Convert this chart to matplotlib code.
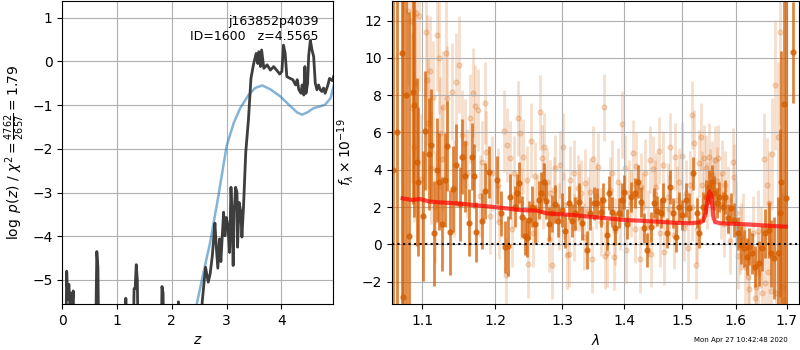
import matplotlib
matplotlib.use("Agg")
import matplotlib.pyplot as plt
from matplotlib.ticker import FixedLocator, FixedFormatter, NullLocator

# ---- redshift probability ----
z_grid = [0.00, 0.05, 0.08, 0.10, 0.12, 0.14, 0.16, 0.18, 0.20, 0.23,
          0.59, 0.63, 0.65, 0.68,
          1.13, 1.16, 1.19,
          1.28, 1.31, 1.33, 1.35, 1.37, 1.40,
          1.79, 1.82, 1.84, 1.87,
          2.09, 2.12, 2.15,
          2.50, 2.555, 2.58, 2.616, 2.665, 2.70, 2.74, 2.76, 2.787, 2.81,
          2.84, 2.87, 2.896, 2.92, 2.945, 2.97, 2.994, 3.024, 3.055, 3.08,
          3.10, 3.12, 3.14, 3.165, 3.19, 3.20, 3.23, 3.26, 3.28, 3.31,
          3.35, 3.40, 3.445, 3.49, 3.54, 3.57, 3.59, 3.62, 3.64, 3.68,
          3.74, 3.80, 3.86, 3.92, 3.97, 4.01, 4.04, 4.07, 4.10, 4.16,
          4.21, 4.26, 4.29, 4.32, 4.36, 4.38, 4.41, 4.43, 4.45, 4.48,
          4.50, 4.53, 4.56, 4.59, 4.62, 4.65, 4.68, 4.71, 4.74, 4.77,
          4.80, 4.85, 4.88, 4.93, 4.96]
log_pz = [-8.0, -8.0, -4.8, -5.45, -5.1, -5.6, -5.3, -5.6, -5.25, -8.0,
          -8.0, -4.35, -4.7, -8.0,
          -8.0, -5.42, -8.0,
          -8.0, -5.2, -5.2, -4.65, -5.0, -8.0,
          -8.0, -5.15, -5.3, -8.0,
          -8.0, -5.5, -8.0,
          -8.0, -5.5, -5.17, -4.71, -5.05, -4.86, -4.44, -4.12, -3.70, -4.21,
          -4.73, -4.06, -4.58, -4.02, -3.45, -3.99, -3.57, -3.76, -4.37, -2.88,
          -3.53, -4.67, -3.42, -2.88, -3.00, -4.25, -3.23, -3.45, -4.02, -3.30,
          -2.08, -1.32, -0.39, -0.08, 0.18, -0.05, 0.22, -0.12, 0.26, -0.16,
          -0.08, -0.20, -0.12, -0.21, -0.29, -0.23, 0.37, 0.18, -0.35, -0.39,
          -0.42, -0.54, -0.42, -0.65, -0.73, -0.54, -0.77, -0.12, -0.73, -0.50,
          0.14, 0.48, 0.26, 0.11, -0.50, -0.65, -0.54, -0.65, -0.69, -0.61,
          -0.73, -0.54, -0.39, -0.44, -0.33]

z_chi2 = [2.20, 2.46, 2.58, 2.70, 2.85, 3.00, 3.13, 3.25, 3.40, 3.52,
          3.65, 3.80, 3.98, 4.16, 4.29, 4.38, 4.47, 4.59, 4.71, 4.80,
          4.90, 4.96]
chi2_curve = [-7.0, -5.52, -4.82, -4.14, -3.08, -1.94, -1.41, -1.07, -0.77, -0.61,
              -0.55, -0.64, -0.80, -1.02, -1.17, -1.22, -1.17, -1.07, -1.03, -0.99,
              -0.84, -0.54]

# ---- 1D spectrum, first set ----
wave_a = [1.0628, 1.0668, 1.0733, 1.0753, 1.0788, 1.0832, 1.0875, 1.0896, 1.0927, 1.0944,
          1.1013, 1.1039, 1.1084, 1.1118, 1.1158, 1.1190, 1.1225, 1.1265, 1.1305, 1.1331,
          1.1371, 1.1411, 1.1447, 1.1501, 1.1537, 1.1581, 1.1626, 1.1671, 1.1707, 1.1735,
          1.1817, 1.1854, 1.1917,
          1.2027, 1.2089, 1.2147, 1.2186, 1.2219, 1.2284, 1.2318, 1.2352, 1.2392, 1.2432,
          1.2466, 1.2500, 1.2540, 1.2590, 1.2641, 1.2680, 1.2717, 1.2752, 1.2802, 1.2844,
          1.2894, 1.2936, 1.2998, 1.3049, 1.3102, 1.3154, 1.3206, 1.3260, 1.3313, 1.3392,
          1.3445, 1.3499,
          1.3548, 1.3613, 1.3655, 1.3711, 1.3749, 1.3803, 1.3843, 1.3914, 1.3969, 1.3997,
          1.4053, 1.4120, 1.4178, 1.4234, 1.4280, 1.4336, 1.4393, 1.4451, 1.4508, 1.4565,
          1.4625, 1.4670, 1.4730, 1.4788, 1.4836, 1.4889, 1.4948, 1.5007, 1.5068, 1.5127,
          1.5205, 1.5267,
          1.5314, 1.5377, 1.5438, 1.5499, 1.5549, 1.5591, 1.5636, 1.5685, 1.5749, 1.5798,
          1.5843, 1.5906, 1.5969, 1.6034, 1.6098, 1.6161, 1.6208, 1.6258, 1.6311, 1.6375,
          1.6442, 1.6507, 1.6572, 1.6639, 1.6691, 1.6751, 1.6819, 1.6865, 1.6891, 1.6952,
          1.6985, 1.7123]
flux_a = [4.0, 6.0, 10.25, -2.81, 8.00, 0.45, 8.15, 7.46, 4.43, 3.36,
          1.52, 6.09, 4.83, 5.33, 0.59, 3.99, 3.36, 1.09, 3.45, 5.27,
          0.64, 2.95, 4.25, 2.16, 4.70, 3.66, 1.16, 4.70, 3.66, 0.66,
          1.27, 2.88, 3.90,
          3.45, 1.66, -0.13, -0.09, 2.55, 2.02, 2.77, 3.30, 1.48, 0.45,
          0.32, 1.30, 2.02, 1.09, 2.38, 2.77, 3.36, 2.34, 1.09, 1.66,
          2.16, 1.27, 1.84, 0.73, 2.23, 1.27, 1.66, 2.29, 1.13, -0.31,
          1.66, 2.20,
          2.20, 1.75, 2.38, 0.50, 2.74, 1.75, 0.86, 1.66, 2.38, 2.82,
          1.09, 2.55, 2.77, 3.36, 2.29, 0.86, -0.31, 0.94, 2.20, 1.80,
          1.66, 2.38, 0.59, 3.09, 1.66, 0.41, 2.02, 1.57, 2.38, 1.93,
          3.81, 1.66,
          0.59, 2.02, 2.55, 3.09, 3.36, 2.74, 2.20, 2.55, 2.02, 2.55,
          1.39, 1.93, 1.30, 0.59, -0.04, -0.21, -0.66, -0.13, -0.48, -1.20,
          -1.02, -0.21, 0.59, 0.77, -0.48, -0.75, -0.48, 1.66, 3.36, 7.53,
          2.5, 10.30]
err_a = [30.0, 30.0, 25.0, 25.0, 14.0, 12.0, 6.0, 6.0, 4.5, 4.0,
         3.5, 3.2, 3.0, 3.0, 2.8, 2.8, 2.6, 2.5, 2.5, 2.4,
         2.3, 2.3, 2.2, 2.0, 2.0, 1.9, 1.8, 1.8, 1.7, 1.6,
         1.5, 1.5, 1.4,
         1.3, 1.2, 1.4, 1.6, 1.2, 1.1, 1.0, 1.1, 1.1, 1.0,
         1.0, 1.0, 1.1, 1.0, 1.0, 1.1, 1.0, 1.0, 0.9, 1.0,
         1.0, 0.9, 0.9, 0.9, 0.9, 0.9, 0.9, 1.0, 0.9, 1.0,
         0.9, 0.9,
         0.8, 0.8, 0.9, 0.8, 0.9, 0.8, 0.9, 0.8, 0.9, 0.9,
         0.8, 0.8, 0.8, 0.9, 0.8, 0.8, 0.9, 0.8, 0.8, 0.8,
         0.8, 0.9, 0.8, 0.9, 0.8, 0.8, 0.8, 0.8, 0.9, 0.8,
         0.9, 0.8,
         0.8, 0.8, 0.9, 0.9, 0.9, 0.9, 0.8, 0.8, 0.8, 0.9,
         0.8, 0.8, 0.9, 0.9, 1.0, 1.0, 1.0, 1.0, 1.1, 1.1,
         1.2, 1.2, 1.3, 1.5, 1.8, 2.2, 3.0, 4.5, 7.0, 14.0,
         20.0, 2.7]

# ---- 1D spectrum, second set ----
wave_b = [1.0818, 1.0847, 1.0860, 1.0890, 1.0904, 1.0917, 1.0961, 1.0985, 1.1048, 1.1066,
          1.1079, 1.1101, 1.1120, 1.1145, 1.1170, 1.1198, 1.1225, 1.1234, 1.1260, 1.1279,
          1.1315, 1.1333, 1.1392, 1.1430, 1.1451, 1.1493, 1.1530, 1.1576, 1.1600, 1.1646,
          1.1684, 1.1717, 1.1750, 1.1780, 1.1810, 1.1858, 1.1868, 1.1920, 1.1954, 1.2035,
          1.2050, 1.2122, 1.2152, 1.2170, 1.2219, 1.2250, 1.2268, 1.2327, 1.2366, 1.2380,
          1.2406, 1.2466, 1.2486, 1.2525, 1.2560, 1.2590, 1.2620, 1.2656, 1.2691, 1.2700,
          1.2727, 1.2767, 1.2790, 1.2818, 1.2848, 1.2870, 1.2894, 1.2950, 1.2971, 1.3012,
          1.3030, 1.3074, 1.3100, 1.3126, 1.3178, 1.3190, 1.3241, 1.3270, 1.3294, 1.3340,
          1.3362, 1.3410, 1.3442, 1.3470, 1.3495, 1.3540, 1.3576, 1.3620, 1.3667, 1.3680,
          1.3711, 1.3760, 1.3793, 1.3831, 1.3850, 1.3902, 1.3930, 1.3957, 1.4012, 1.4030,
          1.4084, 1.4110, 1.4152, 1.4190, 1.4207, 1.4260, 1.4291, 1.4320, 1.4348, 1.4400,
          1.4433, 1.4460, 1.4490, 1.4520, 1.4547, 1.4592, 1.4610, 1.4661, 1.4690, 1.4747,
          1.4770, 1.4794, 1.4850, 1.4881, 1.4920, 1.4951, 1.4998, 1.5030, 1.5081, 1.5110,
          1.5140, 1.5175, 1.5190, 1.5217, 1.5258, 1.5280, 1.5306, 1.5354, 1.5370, 1.5396,
          1.5444, 1.5460, 1.5486, 1.5520, 1.5547, 1.5580, 1.5607, 1.5650, 1.5668, 1.5710,
          1.5729, 1.5770, 1.5791, 1.5853, 1.5880, 1.5934, 1.5960, 1.6008, 1.6040, 1.6071,
          1.6100, 1.6134, 1.6170, 1.6228, 1.6260, 1.6324, 1.6360, 1.6388, 1.6420, 1.6433,
          1.6484, 1.6500, 1.6549, 1.6560, 1.6601, 1.6620, 1.6647, 1.6680, 1.6713, 1.6759,
          1.6780, 1.6825, 1.6865, 1.6911, 1.6931]
flux_b = [12.50, 12.00, 7.30, 5.20, 8.64, 12.40, 12.25, 3.50, 11.41, 8.82,
          6.49, 9.27, 4.10, 7.89, 2.00, 11.23, 9.98, 5.96, 4.60, 7.39,
          10.25, 7.84, 8.19, 3.00, 8.73, 9.62, 5.87, 5.42, 3.80, 6.76,
          8.14, 7.42, 7.21, 2.60, 4.40, 7.57, 4.97, 1.50, 3.81, 3.18,
          1.20, 6.08, -1.65, 5.33, 4.62, 0.80, 3.81, 6.76, 5.99, 2.20,
          4.70, 3.45, -1.07, 5.56, 0.60, 3.67, 1.90, 7.08, 4.62, 2.60,
          5.24, 3.36, 0.30, 2.74, -1.11, 2.90, 4.08, 1.50, 4.26, 5.24,
          2.10, -0.57, -0.50, 3.45, 3.81, 0.90, 3.01, 2.50, 2.74, 0.40,
          3.31, 1.80, 2.83, -0.80, 4.56, 2.60, 4.17, 1.20, 7.35, -0.60,
          -0.48, 2.90, 3.81, -0.66, 0.70, 3.36, 1.50, 6.44, 4.08, -0.30,
          2.74, 2.20, 4.88, 0.80, 4.20, -0.80, 3.09, 2.00, 3.85, 1.10,
          4.53, -0.50, 4.03, 2.70, 3.09, 5.03, 0.60, 4.26, -0.40, 2.56,
          1.90, 5.24, 0.50, 4.70, 2.40, 3.36, 4.74, 0.90, 2.74, -0.20,
          3.18, 6.94, 2.00, 5.42, -1.11, 0.80, 4.35, 5.78, 3.20, 4.62,
          4.08, 2.60, 4.70, 3.30, 3.72, 2.90, 4.53, 3.40, 4.62, 2.10,
          3.81, 1.10, 3.18, 2.38, 0.20, 4.44, 3.60, 1.66, -0.60, 0.23,
          0.40, 0.95, -1.20, -1.74, -2.40, 0.59, -2.90, -2.27, 0.70, -1.56,
          -0.13, -2.60, 4.56, -2.10, 3.18, -1.50, 2.20, -2.50, 4.85, 8.55,
          -2.60, 5.78, 11.41, -2.27, -2.99]
err_b = [4.0, 4.0, 4.0, 4.0, 4.0, 4.0, 4.0, 3.5, 3.5, 3.5,
         3.5, 3.0, 3.0, 3.0, 3.0, 3.0, 3.0, 3.0, 2.8, 3.0,
         2.8, 2.8, 2.6, 2.6, 2.6, 2.6, 2.4, 2.4, 2.4, 2.4,
         2.4, 2.2, 2.2, 2.2, 2.2, 2.2, 2.2, 2.0, 2.0, 2.0,
         2.0, 2.2, 2.0, 2.0, 2.0, 2.0, 2.0, 2.0, 2.0, 1.9,
         2.0, 1.8, 1.8, 2.0, 1.8, 1.8, 1.8, 2.0, 1.8, 1.8,
         1.8, 1.8, 1.8, 1.8, 1.8, 1.8, 1.8, 1.8, 1.8, 1.8,
         1.8, 1.8, 1.8, 1.8, 1.8, 1.8, 1.8, 1.8, 1.8, 1.8,
         1.8, 1.8, 1.8, 1.8, 1.8, 1.8, 1.8, 1.8, 1.8, 1.8,
         1.8, 1.8, 1.8, 1.8, 1.8, 1.8, 1.8, 1.8, 1.8, 1.8,
         1.8, 1.8, 1.8, 1.8, 1.8, 1.8, 1.8, 1.8, 1.8, 1.8,
         1.8, 1.8, 1.8, 1.8, 1.8, 1.8, 1.8, 1.8, 1.8, 1.8,
         1.8, 1.8, 1.8, 1.8, 1.8, 1.8, 1.8, 1.8, 1.8, 1.8,
         1.8, 1.8, 1.8, 1.8, 1.8, 1.8, 1.8, 1.8, 1.8, 1.8,
         1.8, 1.8, 1.8, 1.8, 1.8, 1.8, 1.8, 1.8, 1.8, 1.8,
         1.8, 1.8, 1.8, 1.8, 1.8, 1.8, 1.8, 1.8, 1.8, 1.8,
         1.8, 1.8, 2.0, 2.0, 2.0, 2.0, 2.0, 2.0, 2.2, 2.2,
         2.2, 2.2, 2.5, 2.5, 2.5, 2.6, 2.8, 2.8, 3.0, 3.5,
         3.5, 4.0, 5.0, 5.0, 6.0]

# ---- best-fit model ----
wave_model = [1.0745, 1.0861, 1.0969, 1.1101, 1.1235, 1.1461, 1.1691, 1.1926, 1.2166, 1.2362,
              1.2610, 1.2761, 1.2915, 1.3175, 1.3440, 1.3710, 1.3986, 1.4267, 1.4554, 1.4847,
              1.5145, 1.5328, 1.5380, 1.5420, 1.5465, 1.5500, 1.5525, 1.5543, 1.5575, 1.5606,
              1.5700, 1.6078, 1.6402, 1.6731, 1.6980]
flux_model = [2.47, 2.38, 2.43, 2.29, 2.25, 2.20, 2.11, 2.02, 1.93, 1.84,
              1.81, 1.66, 1.63, 1.57, 1.48, 1.40, 1.31, 1.27, 1.22, 1.16,
              1.13, 1.18, 1.25, 1.55, 2.30, 2.83, 2.70, 2.38, 1.45, 1.20,
              1.13, 1.09, 1.04, 0.98, 0.95]

lam_ticks = [1.1, 1.2, 1.3, 1.4, 1.5, 1.6, 1.7]
lam_labels = ["1.1", "1.2", "1.3", "1.4", "1.5", "1.6", "1.7"]

title_lines = ["j163852p4039", "ID=1600   z=4.5565"]
stamp = "Mon Apr 27 10:42:48 2020"

grism_color = (0.8352941176470589, 0.3686274509803922, 0.0)

fig = plt.figure(figsize=(8, 3.5), dpi=100)

# Left: log p(z)
ax1 = fig.add_axes([0.0779, 0.1314, 0.3388, 0.8657])
ax1.plot(z_chi2, chi2_curve, color="tab:blue", alpha=0.55, lw=1.8)
ax1.plot(z_grid, log_pz, color="0.2", alpha=0.95, lw=2.0)
ax1.set_xlim(0, 4.95)
ax1.set_ylim(-5.55, 1.38)
ax1.set_xticks([0, 1, 2, 3, 4])
ax1.set_yticks([-5, -4, -3, -2, -1, 0, 1])
ax1.grid(True)
ax1.set_xlabel(r"$z$")
ax1.set_ylabel(r"$\log\ p(z)$ / $\chi^2=\frac{4762}{2657}=1.79$")
ax1.text(0.945, 0.955, "\n".join(title_lines), ha="right", va="top",
         transform=ax1.transAxes, fontsize=9)

# Right: spectrum
ax2 = fig.add_axes([0.4896, 0.1314, 0.5091, 0.8657])
ax2.errorbar(wave_b, flux_b, yerr=err_b, color=grism_color, alpha=0.2,
             marker=".", markersize=7, linestyle="None", elinewidth=2.0, zorder=1)
ax2.errorbar(wave_a, flux_a, yerr=err_a, color=grism_color, alpha=0.75,
             marker=".", markersize=7, linestyle="None", elinewidth=2.0, zorder=2)
ax2.plot(wave_model, flux_model, color="red", alpha=0.7, lw=3, zorder=3)
ax2.axhline(0, color="k", linestyle=":", lw=1.5, zorder=4)
ax2.set_xscale("log")
ax2.set_xlim(1.0605, 1.725)
ax2.set_ylim(-3.2, 13.05)
ax2.xaxis.set_major_locator(FixedLocator(lam_ticks))
ax2.xaxis.set_major_formatter(FixedFormatter(lam_labels))
ax2.xaxis.set_minor_locator(NullLocator())
ax2.set_yticks([-2, 0, 2, 4, 6, 8, 10, 12])
ax2.grid(True)
ax2.set_xlabel(r"$\lambda$")
ax2.set_ylabel(r"$f_\lambda \times 10^{-19}$")

fig.text(1 - 0.015, 0.02, stamp, ha="right", va="bottom", fontsize=5)

fig.savefig("out.png", dpi=100)
